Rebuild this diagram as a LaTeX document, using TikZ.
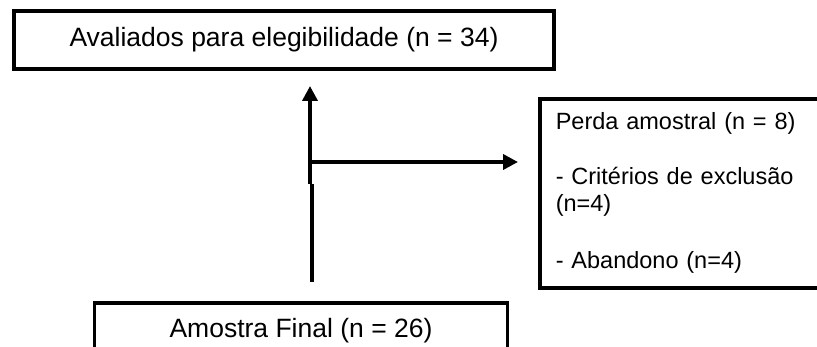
\documentclass[tikz,border=0pt]{standalone}
\usepackage{fontspec}
\setmainfont{Liberation Sans}
\usetikzlibrary{arrows.meta}
\begin{document}
\begin{tikzpicture}[x=1pt,y=-1pt,
  box/.style={draw,line width=3.6pt,inner sep=0pt,
    font=\fontsize{26.5}{30}\selectfont},
  flow/.style={line width=3.6pt},
  tip/.style={-{Triangle[length=15pt,width=15pt]}}]
\useasboundingbox (0,0) rectangle (817,347);
\clip (0,0) rectangle (817,347);
\fill[white] (0,0) rectangle (817,347);

% boxes
\node[box,minimum width=540pt,minimum height=58pt] (aval) at (284,40)
  {Avaliados para elegibilidade (n = 34)};
\node[box,anchor=north west,minimum width=300pt,minimum height=189pt,
  text width=270pt,align=left,inner xsep=16pt,
  font=\fontsize{23.5}{27}\selectfont] (perda) at (538,97)
  {Perda amostral (n = 8)\\[28pt]
   - Critérios de exclusão\\
   (n=4)\\[30pt]
   - Abandono (n=4)};
\node[box,minimum width=413pt,minimum height=56pt] (final) at (301,331)
  {Amostra Final (n = 26)};

% connectors
\coordinate (stemlow) at (312,282);
\coordinate (stemmid) at (312,184);
\coordinate (stemtop) at (310,184);
\coordinate (uptip) at (310,86);
\coordinate (branch) at (310,162);
\draw[flow] (stemlow) -- (stemmid);
\draw[flow,tip] (stemtop) -- (uptip);
\draw[flow,tip,shorten >=20pt] (branch) -- (branch -| perda.west);
\end{tikzpicture}
\end{document}
